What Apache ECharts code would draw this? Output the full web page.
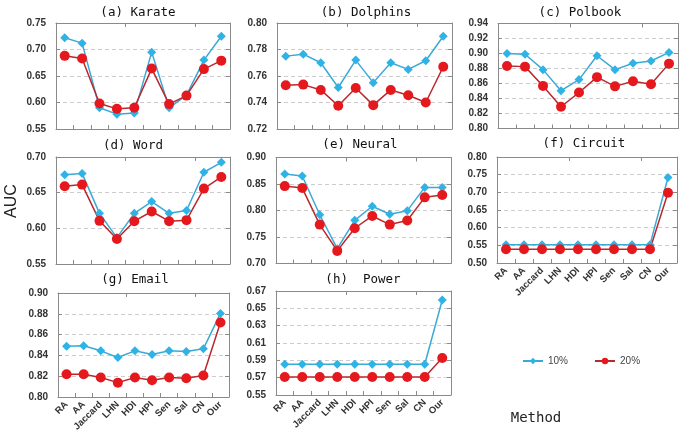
<!DOCTYPE html>
<html><head><meta charset="utf-8">
<script src="https://cdn.jsdelivr.net/npm/echarts@6/dist/echarts.min.js"></script>
<style>html,body{margin:0;padding:0;background:#fff}#c{width:685px;height:436px}</style>
</head><body><div id="c"></div>
<script>
const categories = ["RA","AA","Jaccard","LHN","HDI","HPI","Sen","Sal","CN","Our"];
const seriesNames = ["10%","20%"];

const karate10 = [0.722,0.712,0.590,0.578,0.580,0.695,0.590,0.614,0.680,0.725];
const karate20 = [0.688,0.683,0.598,0.588,0.590,0.664,0.597,0.613,0.663,0.679];
const dolphins10 = [0.775,0.7765,0.770,0.7513,0.772,0.755,0.770,0.765,0.7715,0.790];
const dolphins20 = [0.753,0.7535,0.7495,0.7375,0.751,0.738,0.7495,0.7455,0.740,0.767];
const polbook10 = [0.900,0.899,0.8785,0.8504,0.8652,0.897,0.8785,0.887,0.890,0.9015];
const polbook20 = [0.8834,0.8825,0.8568,0.829,0.848,0.8685,0.8562,0.8630,0.8590,0.8865];
const word10 = [0.675,0.677,0.621,0.587,0.621,0.6376,0.621,0.625,0.6786,0.6925];
const word20 = [0.659,0.6613,0.6105,0.585,0.610,0.6236,0.610,0.6115,0.6557,0.672];
const neural10 = [0.8687,0.865,0.792,0.728,0.7815,0.808,0.793,0.7997,0.8436,0.8436];
const neural20 = [0.846,0.8423,0.7734,0.7238,0.7665,0.7897,0.7734,0.781,0.8248,0.8292];
const circuit10 = [0.552,0.552,0.552,0.552,0.552,0.552,0.552,0.552,0.552,0.742];
const circuit20 = [0.539,0.539,0.539,0.539,0.539,0.539,0.539,0.539,0.539,0.699];
const email10 = [0.8489,0.8492,0.8444,0.838,0.8444,0.8408,0.8444,0.8437,0.8463,0.8804];
const email20 = [0.8219,0.8219,0.8187,0.8138,0.8187,0.8161,0.8187,0.818,0.8206,0.8717];
const power10 = [0.5854,0.5854,0.5854,0.5854,0.5854,0.5854,0.5854,0.5854,0.5854,0.6596];
const power20 = [0.5708,0.5708,0.5708,0.5708,0.5708,0.5708,0.5708,0.5708,0.5708,0.5927];

const titles = ["(a) Karate","(b) Dolphins","(c) Polbook","(d) Word","(e) Neural","(f) Circuit","(g) Email","(h)  Power"];
const data10 = [karate10,dolphins10,polbook10,word10,neural10,circuit10,email10,power10];
const data20 = [karate20,dolphins20,polbook20,word20,neural20,circuit20,email20,power20];
const yMin = [0.55,0.72,0.80,0.55,0.70,0.50,0.80,0.55];
const yMax = [0.75,0.80,0.94,0.70,0.90,0.80,0.90,0.67];
const yStep = [0.05,0.02,0.02,0.05,0.05,0.05,0.02,0.02];
const showX = [false,false,false,false,false,true,true,true];

// layout
const layout = [
  {left:56,top:23,width:174,height:106,tx:138,ty:13},
  {left:277,top:23,width:175,height:106,tx:366,ty:13},
  {left:498,top:23.5,width:180,height:105,tx:580,ty:13},
  {left:56,top:157,width:174,height:107,tx:133,ty:146},
  {left:276,top:157.5,width:175,height:106,tx:360,ty:145},
  {left:497,top:157,width:180,height:106,tx:584,ty:144},
  {left:58,top:293,width:171,height:104,tx:135,ty:280},
  {left:276,top:291,width:175,height:104,tx:363,ty:280}
];

const frameColor = '#8a8a8a';
const c10 = '#3aa9d6', c10m = '#2fb3e6';
const c20 = '#b8282c', c20m = '#e5191d';
const labelFont = {fontFamily:'Liberation Sans', fontWeight:'bold', fontSize:10, color:'#333'};

const grid=[], xAxis=[], yAxis=[], series=[], graphic=[];
for (let i=0;i<8;i++){
  const L = layout[i];
  grid.push({left:L.left, top:L.top, width:L.width, height:L.height, containLabel:false});
  xAxis.push({type:'category', gridIndex:i, data:categories, position:'bottom', boundaryGap:true,
    axisLine:{show:true,lineStyle:{color:frameColor}},
    axisTick:{show:true,inside:true,length:4,lineStyle:{color:frameColor}},
    axisLabel:{show:showX[i], interval:0, rotate:45, margin:6, fontFamily:'Liberation Sans', fontWeight:'bold', fontSize:9.5, color:'#333'},
    splitLine:{show:false}});
  xAxis.push({type:'category', gridIndex:i, data:categories, position:'top', boundaryGap:true,
    axisLine:{show:true,lineStyle:{color:frameColor}},
    axisTick:{show:true,inside:true,length:4,lineStyle:{color:frameColor}},
    axisLabel:{show:false}, splitLine:{show:false}});
  yAxis.push({type:'value', gridIndex:i, min:yMin[i], max:yMax[i], interval:yStep[i], position:'left',
    axisLine:{show:true,lineStyle:{color:frameColor}},
    axisTick:{show:true,inside:true,length:4,lineStyle:{color:frameColor}},
    axisLabel:Object.assign({margin:10, formatter:v=>v.toFixed(2)}, labelFont),
    splitLine:{show:true,lineStyle:{color:'#cccccc',type:[4,3],width:1}}});
  yAxis.push({type:'value', gridIndex:i, min:yMin[i], max:yMax[i], interval:yStep[i], position:'right',
    axisLine:{show:true,lineStyle:{color:frameColor}},
    axisTick:{show:true,inside:true,length:4,lineStyle:{color:frameColor}},
    axisLabel:{show:false}, splitLine:{show:false}});
  series.push({name:seriesNames[0], type:'line', xAxisIndex:2*i, yAxisIndex:2*i, data:data10[i],
    symbol:'diamond', symbolSize:9, lineStyle:{color:c10,width:1.5}, itemStyle:{color:c10m}, animation:false});
  series.push({name:seriesNames[1], type:'line', xAxisIndex:2*i, yAxisIndex:2*i, data:data20[i],
    symbol:'circle', symbolSize:10, lineStyle:{color:c20,width:1.5}, itemStyle:{color:c20m}, animation:false});
  graphic.push({type:'text', x:L.tx, y:L.ty, style:{text:titles[i], fill:'#111',
    font:'12.5px "DejaVu Sans Mono"', textAlign:'center', textVerticalAlign:'middle'}});
}
graphic.push({type:'text', x:12, y:201, rotation:Math.PI/2, style:{text:'AUC', fill:'#222',
  font:'16px "Liberation Sans"', textAlign:'center', textVerticalAlign:'middle'}});
graphic.push({type:'text', x:536, y:418, style:{text:'Method', fill:'#222',
  font:'14px "DejaVu Sans Mono"', textAlign:'center', textVerticalAlign:'middle'}});

const chart = echarts.init(document.getElementById('c'), null, {renderer:'canvas'});
chart.setOption({
  animation:false,
  grid, xAxis, yAxis, series, graphic,
  legend:{data:seriesNames, left:517, top:351, itemWidth:20, itemHeight:8, itemGap:26,
    textStyle:{fontFamily:'Liberation Sans', fontSize:10, color:'#444'}}
});
</script></body></html>
